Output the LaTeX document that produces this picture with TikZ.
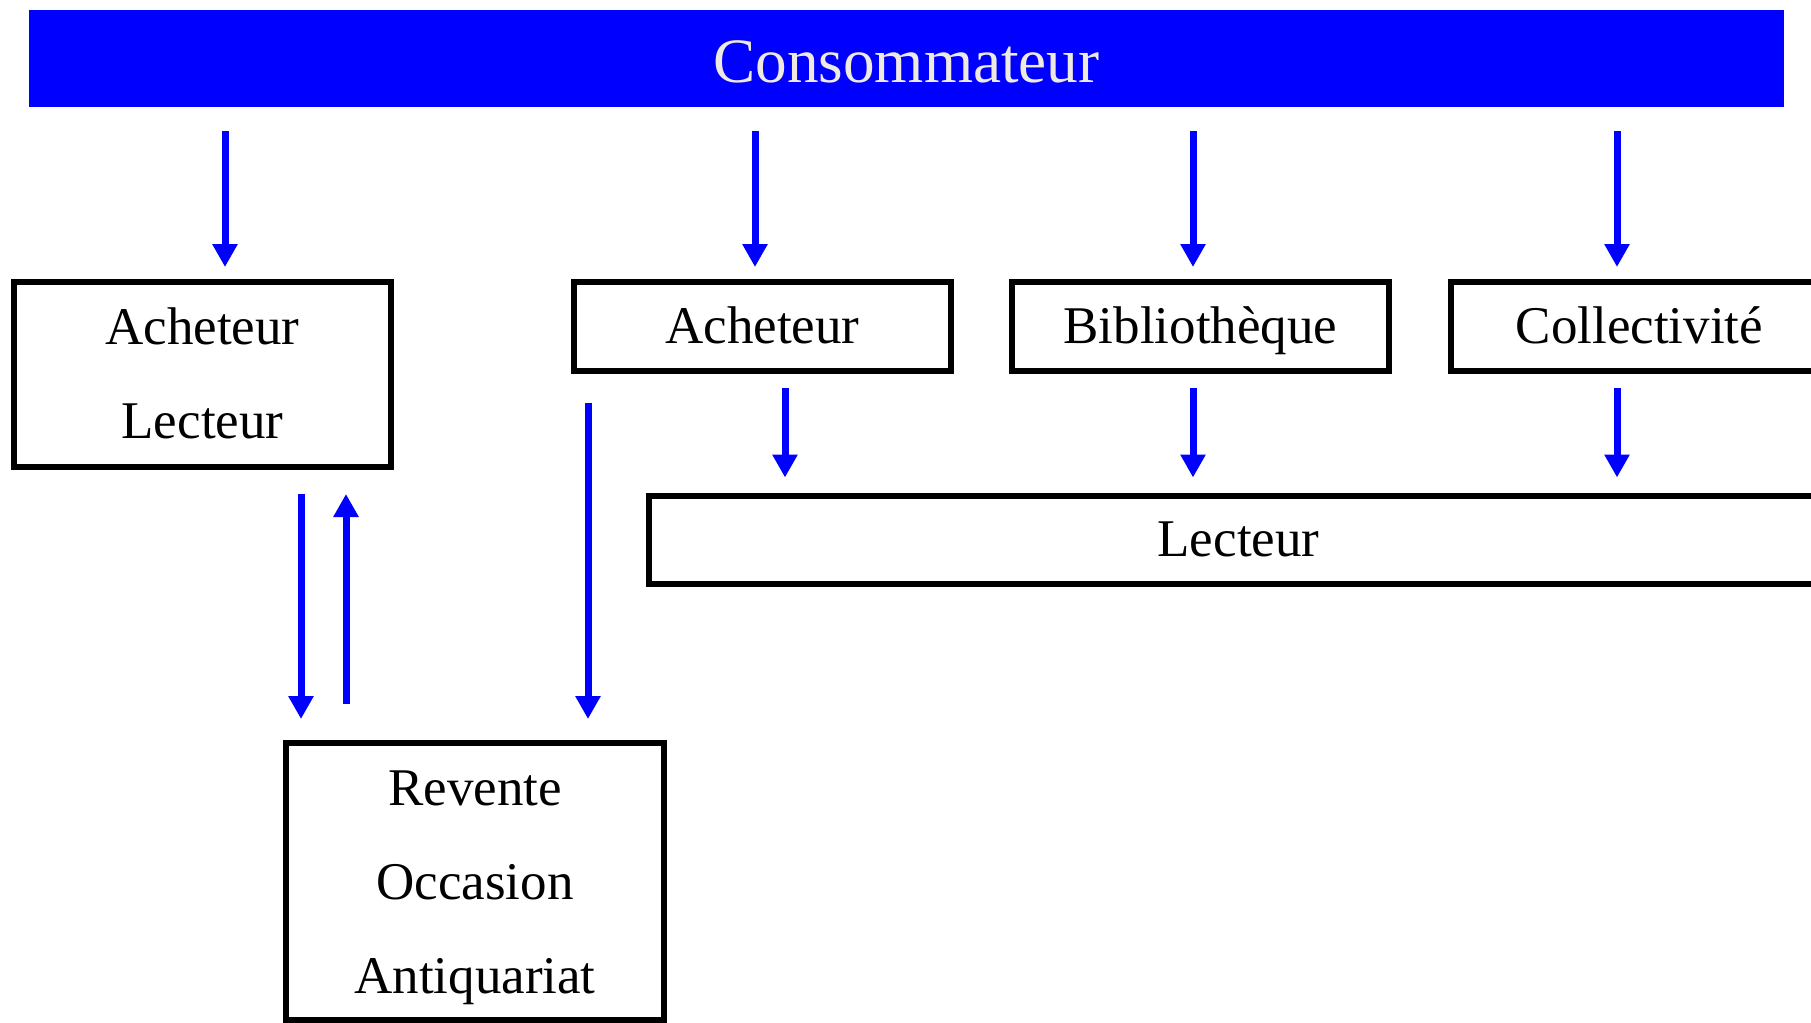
\documentclass[tikz,border=0pt]{standalone}
\usepackage{fontspec}
\setmainfont{Liberation Serif}
\usepackage{tikz}
\usetikzlibrary{arrows.meta, positioning}
\definecolor{creme}{HTML}{EEEAE2}

\begin{document}
\begin{tikzpicture}[x=0.5pt, y=-0.5pt,
    boite/.style={draw, line width=2.8pt, inner sep=0pt,
      minimum width=188.7pt, minimum height=44.7pt,
      font=\fontsize{26.5}{47}\selectfont, text height=16.5pt, text depth=0pt},
    pile/.style={draw, line width=2.8pt, inner sep=0pt, align=center,
      font=\fontsize{26.5}{47}\selectfont},
    flux/.style={draw=blue, line width=3.5pt, -{Triangle[width=12pt,length=11.5pt]}}]
  \useasboundingbox (0,0) rectangle (1811,1023);
  \clip (0,0) rectangle (1811,1023);

  \node [fill=blue, outer sep=0pt, minimum width=877.5pt, minimum height=48.5pt,
         text=creme, font=\fontsize{31.6}{38}\selectfont,
         text height=23.5pt, text depth=0pt] (conso) at (906.5,58.5) {Consommateur};

  \node [pile, minimum width=188.7pt, minimum height=92.7pt,
         text height=67pt, text depth=3.5pt] (achlec) at (202.5,374.5) {Acheteur\\Lecteur};
  \node [boite] (ach) at (762.5,326.5) {Acheteur};
  \node [boite, right=27.5pt of ach] (biblio) {Bibliothèque};
  \node [boite, right=28pt of biblio] (collec) {Collectivité};
  \node [boite, minimum width=589.7pt, minimum height=44.2pt] (lect) at (1238.5,540) {Lecteur};
  \node [pile, minimum width=189.2pt, minimum height=138.7pt,
         text height=114pt, text depth=2.5pt] (revente) at (475,881.5) {Revente\\Occasion\\Antiquariat};

  \coordinate (f1) at (225,0);
  \coordinate (f2) at (755,0);
  \coordinate (f3) at (1193,0);
  \coordinate (f4) at (1617,0);
  \coordinate (f5) at (785,0);
  \coordinate (g1) at (301,0);
  \coordinate (g2) at (346,0);
  \coordinate (g3) at (588,0);

  % du consommateur vers les acheteurs
  \draw [flux, shorten <=12pt, shorten >=6pt] (conso.south -| f1) -- (achlec.north -| f1);
  \draw [flux, shorten <=12pt, shorten >=6pt] (conso.south -| f2) -- (ach.north -| f2);
  \draw [flux, shorten <=12pt, shorten >=6pt] (conso.south -| f3) -- (biblio.north -| f3);
  \draw [flux, shorten <=12pt, shorten >=6pt] (conso.south -| f4) -- (collec.north -| f4);

  % vers le lecteur
  \draw [flux, shorten <=7pt, shorten >=7.75pt] (ach.south -| f5) -- (lect.north -| f5);
  \draw [flux, shorten <=7pt, shorten >=7.75pt] (biblio.south -| f3) -- (lect.north -| f3);
  \draw [flux, shorten <=7pt, shorten >=7.75pt] (collec.south -| f4) -- (lect.north -| f4);

  % revente
  \draw [flux, shorten <=12pt, shorten >=10.5pt] (achlec.south -| g1) -- (revente.north -| g1);
  \draw [flux, shorten <=18pt, shorten >=12pt] (revente.north -| g2) -- (achlec.south -| g2);
  \draw [flux, shorten <=14.5pt, shorten >=10.5pt] (ach.south -| g3) -- (revente.north -| g3);
\end{tikzpicture}
\end{document}
